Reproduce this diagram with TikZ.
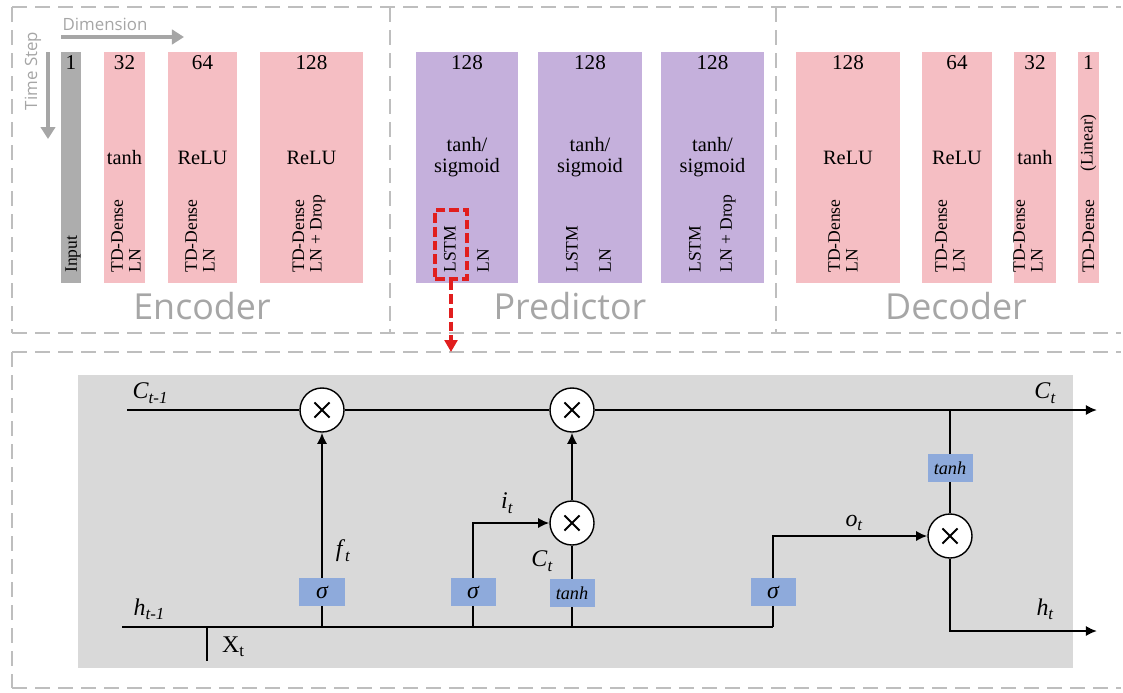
\documentclass[tikz,border=0pt]{standalone}
\usepackage{fontspec}
\setmainfont{Liberation Serif}
\newfontfamily\uisans{Open Sans}
\usetikzlibrary{arrows.meta,calc}
\definecolor{pinkc}{RGB}{245,190,195}
\definecolor{purpc}{RGB}{197,176,220}
\definecolor{inputc}{RGB}{173,173,173}
\definecolor{cellbg}{RGB}{217,217,217}
\definecolor{gatec}{RGB}{142,170,219}
\definecolor{framec}{RGB}{190,190,190}
\definecolor{ttlc}{RGB}{166,166,166}
\definecolor{redc}{RGB}{225,30,30}
\newcommand\mysub[1]{\raisebox{-0.4ex}{\fontsize{12}{12}\selectfont #1}}
\begin{document}
\begin{tikzpicture}[x=0.025cm,y=-0.025cm,
  frame/.style={draw=framec,line width=1.4pt,dash pattern=on 0.375cm off 0.2cm},
  pinkbar/.style={fill=pinkc},
  purpbar/.style={fill=purpc},
  num/.style={font=\fontsize{15}{15}\selectfont,inner sep=0pt},
  act/.style={font=\fontsize{14.5}{15}\selectfont,inner sep=0pt,align=center},
  rot/.style={font=\fontsize{12.5}{12.5}\selectfont,inner sep=0pt,rotate=90,anchor=west,align=left},
  ttl/.style={font=\uisans\fontsize{25.5}{26}\selectfont,text=ttlc,inner sep=0pt},
  grayarr/.style={draw=ttlc,line width=3pt,-{Triangle[length=0.3cm,width=0.36cm]}},
  wire/.style={draw=black,line width=2.1pt},
  arr/.style={wire,-{Latex[length=0.28cm,width=0.26cm]}},
  mult/.style={circle,draw=black,fill=white,line width=1pt,minimum size=1.1cm,inner sep=0pt,
    path picture={\draw[line width=1.3pt]
      ([shift={(-0.19cm,-0.19cm)}]path picture bounding box.center) -- ([shift={(0.19cm,0.19cm)}]path picture bounding box.center)
      ([shift={(-0.19cm,0.19cm)}]path picture bounding box.center) -- ([shift={(0.19cm,-0.19cm)}]path picture bounding box.center);}},
  gate/.style={fill=gatec,minimum width=1.125cm,minimum height=0.7cm,inner sep=0pt,font=\fontsize{17}{17}\selectfont\itshape},
  tgate/.style={gate,font=\fontsize{13}{13}\selectfont\itshape},
  lbl/.style={font=\fontsize{17}{17}\selectfont,inner sep=0pt},
  reddash/.style={draw=redc,line width=2.6pt,dash pattern=on 0.24cm off 0.1cm}
]
\useasboundingbox (0,0) rectangle (1123,692);

% ---------- frames ----------
\draw[frame] (12,7) -- (1121,7);
\draw[frame] (12,333) -- (1121,333);
\draw[frame] (12,7) -- (12,333);
\draw[frame] (390,7) -- (390,333);
\draw[frame] (776,7) -- (776,333);
\draw[frame] (12,352) -- (1121,352);
\draw[frame] (12,688) -- (1121,688);
\draw[frame] (12,352) -- (12,688);

% ---------- axes ----------
\node[font=\uisans\fontsize{12}{12}\selectfont,text=ttlc,inner sep=0pt] (dimlbl) at (105,24) {Dimension};
\coordinate (dimA) at (61,37); \coordinate (dimB) at (184,37);
\draw[grayarr] (dimA) -- (dimB);
\node[font=\uisans\fontsize{12}{12}\selectfont,text=ttlc,inner sep=0pt,rotate=90] (tslbl) at (33,71) {Time Step};
\coordinate (tsA) at (48,52); \coordinate (tsB) at (48,139);
\draw[grayarr] (tsA) -- (tsB);

% ---------- encoder ----------
\fill[inputc] (61,52) rectangle (81,283);
\node[num] (in1) at (71,63) {1};
\node[rot] (inlbl) at (73,273) {Input};

\fill[pinkbar] (104,52) rectangle (145,283);
\node[num] (e1n) at (124.5,63) {32};
\node[act] (e1a) at (124.5,158) {tanh};
\node[rot] (e1r) at (126,273) {TD-Dense\\LN};

\fill[pinkbar] (168,52) rectangle (237,283);
\node[num] (e2n) at (202.5,63) {64};
\node[act] (e2a) at (202.5,158) {ReLU};
\node[rot] (e2r) at (200,273) {TD-Dense\\LN};

\fill[pinkbar] (260,52) rectangle (363,283);
\node[num] (e3n) at (311.5,63) {128};
\node[act] (e3a) at (311.5,158) {ReLU};
\node[rot] (e3r) at (309,273) {TD-Dense\\LN + Drop};

\node[ttl] (enc) at (202,306) {Encoder};

% ---------- predictor ----------
\fill[purpbar] (416,52) rectangle (518,283);
\node[num] (p1n) at (467,63) {128};
\node[act] (p1a) at (467,157) {tanh/\\sigmoid};
\node[rot] (p1l) at (450,273) {LSTM};
\node[rot] (p1n2) at (483,273) {LN};

\fill[purpbar] (538,52) rectangle (642,283);
\node[num] (p2n) at (590,63) {128};
\node[act] (p2a) at (590,157) {tanh/\\sigmoid};
\node[rot] (p2l) at (572,273) {LSTM};
\node[rot] (p2n2) at (605,273) {LN};

\fill[purpbar] (661,52) rectangle (764,283);
\node[num] (p3n) at (712.5,63) {128};
\node[act] (p3a) at (712.5,157) {tanh/\\sigmoid};
\node[rot] (p3l) at (695,273) {LSTM};
\node[rot] (p3n2) at (728,273) {LN + Drop};

\node[ttl] (pred) at (570,306) {Predictor};

% ---------- decoder ----------
\fill[pinkbar] (796,52) rectangle (900,283);
\node[num] (d1n) at (848,63) {128};
\node[act] (d1a) at (848,158) {ReLU};
\node[rot] (d1r) at (843,273) {TD-Dense\\LN};

\fill[pinkbar] (922,52) rectangle (992,283);
\node[num] (d2n) at (957,63) {64};
\node[act] (d2a) at (957,158) {ReLU};
\node[rot] (d2r) at (950,273) {TD-Dense\\LN};

\fill[pinkbar] (1014,52) rectangle (1056,283);
\node[num] (d3n) at (1035,63) {32};
\node[act] (d3a) at (1035,158) {tanh};
\node[rot] (d3r) at (1028,273) {TD-Dense\\LN};

\fill[pinkbar] (1078,52) rectangle (1099,283);
\node[num] (d4n) at (1088.5,63) {1};
\node[font=\fontsize{12.5}{12.5}\selectfont,inner sep=0pt,rotate=90] (d4a) at (1088.5,143) {(Linear)};
\node[rot] (d4r) at (1088.5,273) {TD-Dense};

\node[ttl] (dec) at (956,306) {Decoder};

% ---------- red selection ----------
\node[reddash,minimum width=0.8cm,minimum height=1.72cm,inner sep=0pt] (sel) at (451,244.5) {};
\coordinate (selend) at (451,352);
\draw[reddash,-{Triangle[length=0.3cm,width=0.32cm,fill=redc]}] (sel.south) -- (selend);

% ---------- LSTM cell ----------
\fill[cellbg] (78,375) rectangle (1073,668);

\coordinate (cin) at (127,410);
\coordinate (cout) at (1097,410);
\coordinate (ctap) at (950,410);
\coordinate (hin) at (122,627);
\coordinate (h1) at (322,627);
\coordinate (h2) at (473,627);
\coordinate (h3) at (572,627);
\coordinate (h4) at (773,627);
\coordinate (xtop) at (207,627);
\coordinate (xbot) at (207,661);
\coordinate (hout) at (1097,631);

\node[mult] (m1) at (322,410) {};
\node[mult] (m2) at (572,410) {};
\node[mult] (m3) at (572,523) {};
\node[mult] (m4) at (950,536) {};

\node[gate] (s1) at (322,592) {σ};
\node[gate] (s2) at (473,592) {σ};
\node[tgate] (t1) at (572,593) {tanh};
\node[gate] (s3) at (773,592) {σ};
\node[tgate] (t2) at (950,468) {tanh};

\draw[wire] (cin) -- (m1);
\draw[wire] (m1) -- (m2);
\draw[arr] (m2) -- (cout);
\draw[wire] (hin) -- (h4);
\draw[wire] (xtop) -- (xbot);

\draw[wire] (h1) -- (s1.south);
\draw[arr] (s1.north) -- (m1.south);
\draw[wire] (h2) -- (s2.south);
\draw[arr] (s2.north) |- (m3.west);
\draw[wire] (h3) -- (t1.south);
\draw[wire] (t1.north) -- (m3.south);
\draw[arr] (m3.north) -- (m2.south);
\draw[wire] (h4) -- (s3.south);
\draw[arr] (s3.north) |- (m4.west);
\draw[wire] (ctap) -- (t2.north);
\draw[wire] (t2.south) -- (m4.north);
\draw[arr] (m4.south) |- (hout);

\node[lbl] (lc0) at (150,393) {\textit{C}\mysub{\textit{t-1}}};
\node[lbl] (lh0) at (149,609) {\textit{h}\mysub{\textit{t-1}}};
\node[lbl] (lx) at (233,647) {X\mysub{t}};
\node[lbl] (lf) at (343,551) {\textit{f}\mysub{\textit{t}}};
\node[lbl] (li) at (507,503) {\textit{i}\mysub{\textit{t}}};
\node[lbl] (lcc) at (542,561) {\textit{C}\mysub{\textit{t}}};
\node[lbl] (lo) at (854,523) {\textit{o}\mysub{\textit{t}}};
\node[lbl] (lc1) at (1045,393) {\textit{C}\mysub{\textit{t}}};
\node[lbl] (lh1) at (1045,609) {\textit{h}\mysub{\textit{t}}};
\end{tikzpicture}
\end{document}
